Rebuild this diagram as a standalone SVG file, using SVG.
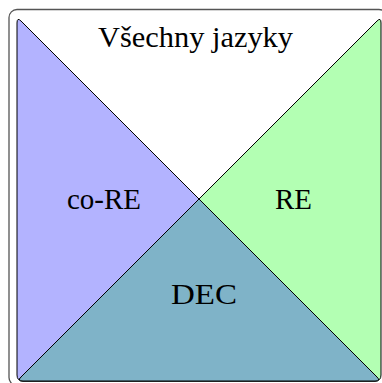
<svg xmlns="http://www.w3.org/2000/svg" width="382" height="383" viewBox="0 0 382 383">
<style>
.lbl{font-family:"Liberation Serif","DejaVu Serif",serif;font-size:29px;fill:#000;text-anchor:middle}
.reg{stroke:#000;stroke-width:1;stroke-linejoin:round}
</style>
<rect x="0" y="0" width="382" height="383" fill="#fff"/>
<rect x="9" y="9.5" width="378" height="376" rx="8" ry="8" fill="none" stroke="#555" stroke-width="1.3"/>
<g id="coRE">
<path class="reg" fill="#b3b3ff" d="M17,23 Q17,17 21,21 L377,377 Q381,381 375,381 L23,381 Q17,381 17,375 Z"/>
</g>
<g id="RE">
<path class="reg" fill="#b3ffb3" d="M381,23 Q381,17 377,21 L21,377 Q17,381 23,381 L375,381 Q381,381 381,375 Z"/>
</g>
<g id="DEC">
<path class="reg" fill="#7fb3c8" d="M199,199 L377,377 Q381,381 375,381 L23,381 Q17,381 21,377 Z"/>
</g>
<g id="labels">
<text class="lbl" x="195.5" y="47" textLength="195" lengthAdjust="spacingAndGlyphs">Všechny jazyky</text>
<text id="t-core" class="lbl" x="104" y="209" textLength="74" lengthAdjust="spacingAndGlyphs">co-RE</text>
<text id="t-re" class="lbl" x="293.5" y="209" textLength="37" lengthAdjust="spacingAndGlyphs">RE</text>
<text id="t-dec" class="lbl" x="204" y="304" textLength="66" lengthAdjust="spacingAndGlyphs">DEC</text>
</g>
</svg>
